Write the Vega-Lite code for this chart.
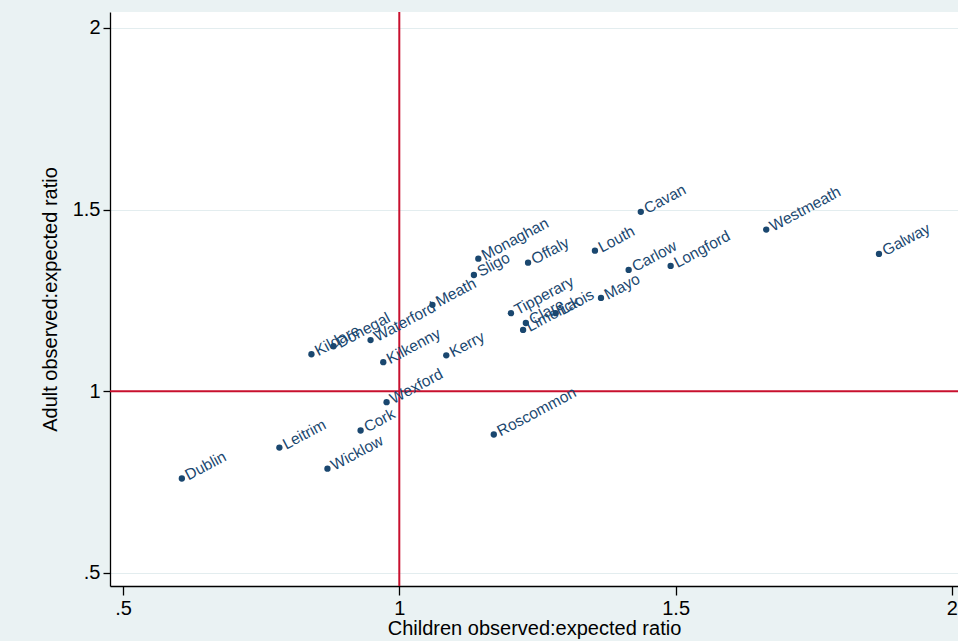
{
  "$schema": "https://vega.github.io/schema/vega-lite/v6.json",
  "autosize": {"type": "none"},
  "width": 848,
  "height": 574,
  "padding": {"left": 110, "top": 12, "right": 0, "bottom": 55},
  "background": "#EAF2F3",
  "config": {
    "view": {"stroke": null, "fill": "white"},
    "font": "Liberation Sans",
    "axis": {"labelFont": "Liberation Sans", "titleFont": "Liberation Sans", "labelColor": "black", "titleColor": "black", "titleFontWeight": "normal", "labelFontSize": 20, "titleFontSize": 20, "domainColor": "black", "tickColor": "black", "domainWidth": 1.3, "tickWidth": 1.3}
  },
  "data": {
    "values": [
      {"county": "Dublin", "child": 0.6065, "adult": 0.760},
      {"county": "Leitrim", "child": 0.783, "adult": 0.845},
      {"county": "Wicklow", "child": 0.870, "adult": 0.787},
      {"county": "Cork", "child": 0.930, "adult": 0.892},
      {"county": "Wexford", "child": 0.977, "adult": 0.970},
      {"county": "Roscommon", "child": 1.171, "adult": 0.881},
      {"county": "Kildare", "child": 0.841, "adult": 1.102},
      {"county": "Donegal", "child": 0.881, "adult": 1.124},
      {"county": "Waterford", "child": 0.948, "adult": 1.141},
      {"county": "Meath", "child": 1.060, "adult": 1.238},
      {"county": "Kilkenny", "child": 0.971, "adult": 1.080},
      {"county": "Kerry", "child": 1.085, "adult": 1.099},
      {"county": "Sligo", "child": 1.135, "adult": 1.320},
      {"county": "Monaghan", "child": 1.143, "adult": 1.365},
      {"county": "Offaly", "child": 1.233, "adult": 1.354},
      {"county": "Louth", "child": 1.354, "adult": 1.387},
      {"county": "Cavan", "child": 1.437, "adult": 1.494},
      {"county": "Carlow", "child": 1.415, "adult": 1.334},
      {"county": "Longford", "child": 1.491, "adult": 1.345},
      {"county": "Westmeath", "child": 1.664, "adult": 1.445},
      {"county": "Galway", "child": 1.868, "adult": 1.378},
      {"county": "Mayo", "child": 1.365, "adult": 1.257},
      {"county": "Tipperary", "child": 1.202, "adult": 1.215},
      {"county": "Clare", "child": 1.229, "adult": 1.188},
      {"county": "Limerick", "child": 1.224, "adult": 1.169},
      {"county": "Laois", "child": 1.283, "adult": 1.215}
    ]
  },
  "encoding": {
    "x": {
      "field": "child", "type": "quantitative",
      "scale": {"domain": [0.4765, 2.011], "nice": false, "zero": false},
      "axis": {"values": [0.5, 1, 1.5, 2], "grid": false, "tickSize": 9, "labelPadding": 3, "titlePadding": 0, "title": "Children observed:expected ratio", "labelExpr": "datum.value == 0.5 ? '.5' : toString(datum.value)"}
    },
    "y": {
      "field": "adult", "type": "quantitative",
      "scale": {"domain": [0.464, 2.044], "nice": false, "zero": false},
      "axis": {"values": [0.5, 1, 1.5, 2], "grid": true, "gridColor": "#E3EDEF", "gridWidth": 1.2, "tickSize": 7, "labelPadding": 3, "titlePadding": 12, "title": "Adult observed:expected ratio", "labelExpr": "datum.value == 0.5 ? '.5' : toString(datum.value)"}
    }
  },
  "layer": [
    {
      "data": {"values": [{"v": 1}]},
      "mark": {"type": "rule", "color": "#C8102E", "strokeWidth": 2},
      "encoding": {"x": {"field": "v", "type": "quantitative"}, "y": null}
    },
    {
      "data": {"values": [{"v": 1}]},
      "mark": {"type": "rule", "color": "#C8102E", "strokeWidth": 2},
      "encoding": {"y": {"field": "v", "type": "quantitative"}, "x": null}
    },
    {
      "mark": {"type": "circle", "size": 40, "opacity": 1, "color": "#1A476F"}
    },
    {
      "mark": {"type": "text", "angle": -28, "align": "left", "baseline": "middle", "dx": 5, "dy": 0, "fontSize": 15.5, "color": "#1A476F", "font": "Liberation Sans"},
      "encoding": {"text": {"field": "county", "type": "nominal"}}
    }
  ]
}
